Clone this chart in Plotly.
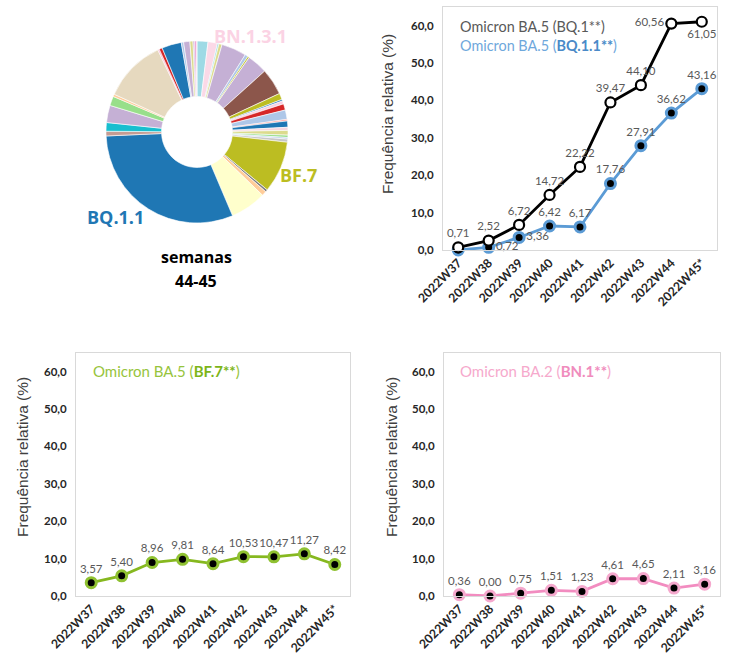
import plotly.graph_objects as go

W, H = 730, 655
weeks = ["2022W37", "2022W38", "2022W39", "2022W40", "2022W41",
         "2022W42", "2022W43", "2022W44", "2022W45*"]

bq1 = [0.71, 2.52, 6.72, 14.72, 22.22, 39.47, 44.10, 60.56, 61.05]
bq11 = [0.00, 0.72, 3.36, 6.42, 6.17, 17.76, 27.91, 36.62, 43.16]
bf7 = [3.57, 5.40, 8.96, 9.81, 8.64, 10.53, 10.47, 11.27, 8.42]
bn1 = [0.36, 0.00, 0.75, 1.51, 1.23, 4.61, 4.65, 2.11, 3.16]

# donut slices (weeks 44-45), clockwise from 12 o'clock, share in degrees
pie_vals = [7, 6, 1, 2, 16, 2, 1, 13, 17, 4, 1, 2, 4, 6, 1, 4, 2, 3, 1.5, 1, 2,
            33, 1.5, 3, 23, 110.5, 3, 5.5, 11, 6, 1.5, 40, 1, 2, 12.5,
            1.5, 4, 2, 1, 1, 0.5]
pie_cols = ["#9edae5", "#fbd9e7", "#9edae5", "#dbdb8d", "#c5b0d5", "#aec7e8",
            "#bcbd22", "#c5b0d5", "#8c564b", "#bcbd22", "#1f77b4", "#f7d0e2",
            "#d62728", "#aec7e8", "#ff9896", "#1f77b4", "#f7d6e0", "#dbdb8d",
            "#98df8a", "#aec7e8", "#c7c7c7", "#bcbd22", "#7f7f7f", "#ffcc99",
            "#ffffcc", "#1f77b4", "#c49c94", "#17becf", "#c5b0d5", "#98df8a",
            "#ffcc99", "#e6d9bf", "#f7b6d2", "#d62728", "#1f77b4", "#aec7e8",
            "#c5b0d5", "#dbdb8d", "#c5b0d5", "#e377c2", "#f7b6d2"]


def fmt(v):
    return f"{v:.2f}".replace(".", ",")


def px(x):
    return x / W


def py(y):
    return 1 - y / H


fig = go.Figure()

fig.add_trace(go.Pie(values=pie_vals, marker=dict(colors=pie_cols, line=dict(color="white", width=0.6)),
                     hole=0.39, sort=False, direction="clockwise", rotation=0,
                     textinfo="none", hoverinfo="skip", showlegend=False,
                     domain=dict(x=[px(106), px(288)], y=[py(223), py(41)])))

lblfont = dict(family="Lato", size=11.5, color="#595959")

# top right
bq1_pos = ["top center"] * 7 + ["middle left", "bottom center"]
bq11_pos = ["top center", "middle right", "middle right"] + ["top center"] * 6
bq11_txt = [""] + [fmt(v) for v in bq11[1:]]
fig.add_trace(go.Scatter(x=weeks, y=bq11, mode="lines+markers+text", xaxis="x", yaxis="y",
                         line=dict(color="#5b9bd5", width=2.8),
                         marker=dict(size=10, color="black", line=dict(color="#5b9bd5", width=3)),
                         text=bq11_txt, textposition=bq11_pos, textfont=lblfont,
                         showlegend=False, cliponaxis=False))
fig.add_trace(go.Scatter(x=weeks, y=bq1, mode="lines+markers+text", xaxis="x", yaxis="y",
                         line=dict(color="black", width=2.8),
                         marker=dict(size=10, color="white", line=dict(color="black", width=2.2)),
                         text=[fmt(v) for v in bq1], textposition=bq1_pos, textfont=lblfont,
                         showlegend=False, cliponaxis=False))
# bottom left
fig.add_trace(go.Scatter(x=weeks, y=bf7, mode="lines+markers+text", xaxis="x2", yaxis="y2",
                         line=dict(color="#86b81f", width=2.8),
                         marker=dict(size=10, color="black", line=dict(color="#8fc131", width=3)),
                         text=[fmt(v) for v in bf7], textposition="top center", textfont=lblfont,
                         showlegend=False, cliponaxis=False))
# bottom right
fig.add_trace(go.Scatter(x=weeks, y=bn1, mode="lines+markers+text", xaxis="x3", yaxis="y3",
                         line=dict(color="#f28cc0", width=2.8),
                         marker=dict(size=10, color="black", line=dict(color="#f5a8cd", width=3)),
                         text=[fmt(v) for v in bn1], textposition="top center", textfont=lblfont,
                         showlegend=False, cliponaxis=False))

xcommon = dict(type="category", range=[-0.5, 8.5], showline=True, mirror=True,
               linecolor="#d9d9d9", linewidth=1, showgrid=False, zeroline=False,
               tickangle=-45, ticks="", automargin=False,
               tickfont=dict(family="Lato", size=12.3, color="#262626", weight="bold"))
ycommon = dict(range=[0, 65], tickvals=[0, 10, 20, 30, 40, 50, 60], tickformat=".1f",
               showline=True, mirror=True, linecolor="#d9d9d9", linewidth=1,
               showgrid=False, zeroline=False, ticks="", automargin=False,
               ticklabelstandoff=6,
               tickfont=dict(family="Lato", size=11.5, color="#262626", weight="bold"))

fig.update_layout(
    width=W, height=H, margin=dict(l=0, r=0, t=0, b=0, autoexpand=False), autosize=False,
    paper_bgcolor="white", plot_bgcolor="white", separators=",.",
    xaxis=dict(xcommon, domain=[px(443), px(717)], anchor="y"),
    yaxis=dict(ycommon, domain=[py(250), py(7)], anchor="x"),
    xaxis2=dict(xcommon, domain=[px(76), px(350)], anchor="y2"),
    yaxis2=dict(ycommon, domain=[py(596), py(353)], anchor="x2"),
    xaxis3=dict(xcommon, domain=[px(444), px(720)], anchor="y3"),
    yaxis3=dict(ycommon, domain=[py(596), py(353)], anchor="x3"),
)

ann = []


def add(text, x, y, size, color, family="Open Sans", xanchor="center", yanchor="middle", angle=0):
    ann.append(dict(text=text, x=px(x), y=py(y), xref="paper", yref="paper", showarrow=False,
                    xanchor=xanchor, yanchor=yanchor, textangle=angle,
                    font=dict(family=family, size=size, color=color)))


add("<b>BN.1.3.1</b>", 251, 36, 18, "#fbd3e4")
add("<b>BF.7</b>", 298, 175, 18, "#bcbd22")
add("<b>BQ.1.1</b>", 115, 217, 18, "#1f77b4")
add("<b>semanas</b>", 196, 257, 16, "#000000")
add("<b>44-45</b>", 196, 281, 16, "#000000")

ytitle = "Frequência relativa (%)"
add(ytitle, 387, 114, 15.5, "#404040", family="Liberation Sans", angle=-90)
add(ytitle, 22, 457, 15.5, "#404040", family="Liberation Sans", angle=-90)
add(ytitle, 391, 457, 15.5, "#404040", family="Liberation Sans", angle=-90)

add("Omicron BA.5 (BQ.1**)", 458, 27, 14.4, "#595959", family="Lato", xanchor="left")
add("Omicron BA.5 (<b><span style='color:#4a8ac8'>BQ.1.1**</span></b>)", 458, 45, 14.4, "#6fa8dc",
    family="Lato", xanchor="left")
add("Omicron BA.5 (<b><span style='color:#7cb518'>BF.7**</span></b>)", 91, 371, 15, "#97c43c",
    family="Lato", xanchor="left")
add("Omicron BA.2 (<b><span style='color:#f08cbd'>BN.1**</span></b>)", 458, 371, 15, "#f6a9cc",
    family="Lato", xanchor="left")

fig.update_layout(annotations=ann)
fig.write_html("out.html")
